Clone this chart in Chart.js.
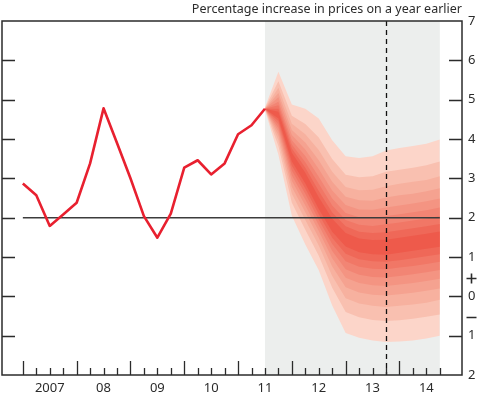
<!DOCTYPE html>
<html>
<head>
<meta charset="utf-8">
<script src="https://cdn.jsdelivr.net/npm/chart.js@4"></script>
<style>
  html, body { margin: 0; padding: 0; background: #fff; }
</style>
</head>
<body>
<canvas id="fanChart" width="479" height="396"></canvas>
<script>
// CPI, per cent on a year earlier, quarterly from 2007 Q1
const historyCpi = [2.87, 2.57, 1.79, 2.08, 2.38, 3.38, 4.78, 3.9, 3.0, 2.04, 1.49, 2.1, 3.27, 3.46, 3.1, 3.38, 4.12, 4.35, 4.77];

// quarter indices (0 = 2007 Q1)
const firstForecast = 18;   // 2011 Q3
const lastQuarter = 31;     // 2014 Q4
const horizonQuarter = 27;  // 2013 Q4
const inflationTarget = 2;

const yearLabels = ['2007', '08', '09', '10', '11', '12', '13', '14'];
const rightTicks = [7, 6, 5, 4, 3, 2, 1, 0, -1, -2];
const innerTicks = [6, 5, 4, 3, 2, 1, 0, -1];

// fan bands, 2011 Q3 to 2014 Q4
const hi90 = [4.80, 5.71, 4.88, 4.77, 4.52, 3.97, 3.56, 3.52, 3.56, 3.71, 3.77, 3.82, 3.88, 3.99];
const hi80 = [4.79, 5.47, 4.59, 4.38, 4.04, 3.49, 3.09, 3.03, 3.05, 3.17, 3.22, 3.27, 3.33, 3.43];
const hi70 = [4.77, 5.30, 4.39, 4.12, 3.72, 3.17, 2.78, 2.70, 2.71, 2.80, 2.86, 2.91, 2.96, 3.05];
const hi60 = [4.77, 5.17, 4.23, 3.91, 3.46, 2.91, 2.53, 2.44, 2.43, 2.51, 2.57, 2.61, 2.67, 2.75];
const hi50 = [4.77, 5.06, 4.10, 3.73, 3.24, 2.69, 2.32, 2.21, 2.20, 2.26, 2.31, 2.36, 2.42, 2.49];
const hi40 = [4.77, 4.95, 3.97, 3.57, 3.04, 2.49, 2.12, 2.01, 1.99, 2.04, 2.09, 2.14, 2.19, 2.26];
const hi30 = [4.77, 4.86, 3.86, 3.41, 2.86, 2.31, 1.94, 1.82, 1.79, 1.83, 1.88, 1.93, 1.98, 2.04];
const hi20 = [4.77, 4.77, 3.76, 3.27, 2.68, 2.13, 1.78, 1.64, 1.61, 1.63, 1.68, 1.73, 1.78, 1.84];
const hi10 = [4.77, 4.69, 3.65, 3.14, 2.52, 1.97, 1.61, 1.47, 1.43, 1.44, 1.49, 1.54, 1.59, 1.65];
const lo10 = [4.77, 4.52, 3.43, 2.87, 2.22, 1.64, 1.27, 1.12, 1.07, 1.06, 1.11, 1.16, 1.21, 1.26];
const lo20 = [4.77, 4.45, 3.32, 2.74, 2.09, 1.49, 1.08, 0.94, 0.89, 0.88, 0.92, 0.97, 1.02, 1.07];
const lo30 = [4.77, 4.37, 3.20, 2.61, 1.95, 1.33, 0.89, 0.75, 0.70, 0.69, 0.73, 0.77, 0.82, 0.88];
const lo40 = [4.77, 4.28, 3.07, 2.46, 1.81, 1.15, 0.69, 0.55, 0.49, 0.48, 0.52, 0.56, 0.61, 0.67];
const lo50 = [4.77, 4.19, 2.94, 2.31, 1.66, 0.97, 0.47, 0.34, 0.28, 0.26, 0.30, 0.34, 0.39, 0.45];
const lo60 = [4.77, 4.09, 2.78, 2.14, 1.49, 0.76, 0.23, 0.10, 0.04, 0.02, 0.05, 0.09, 0.14, 0.20];
const lo70 = [4.77, 3.97, 2.61, 1.94, 1.29, 0.52, -0.05, -0.18, -0.24, -0.27, -0.24, -0.21, -0.16, -0.09];
const lo80 = [4.75, 3.82, 2.38, 1.69, 1.03, 0.22, -0.40, -0.53, -0.60, -0.63, -0.61, -0.57, -0.52, -0.46];
const lo90 = [4.74, 3.60, 2.05, 1.32, 0.66, -0.23, -0.93, -1.05, -1.12, -1.16, -1.15, -1.12, -1.07, -1.00];

// outer (lightest) to inner (darkest)
const fanBands = [
    [lo90, hi90], [lo80, hi80], [lo70, hi70], [lo60, hi60], [lo50, hi50],
    [lo40, hi40], [lo30, hi30], [lo20, hi20], [lo10, hi10]
];
const fanColours = ['#fcd5c9', '#f9c0b0', '#f7b19f', '#f5a290', '#f49482', '#f28574', '#f17766', '#ef6858', '#ee5a4b'];

const FONT = '"Noto Sans", "Open Sans", sans-serif';
const INK = '#2b2b2b';

function toPoints(values, start) {
    return values.map(function(v, i) { return { x: start + i, y: v }; });
}

const datasets = [
    {
        data: toPoints(historyCpi, 0),
        borderColor: '#e8202f',
        borderWidth: 2.6,
        fill: false,
        order: 0
    },
    {
        data: [{ x: 0, y: inflationTarget }, { x: lastQuarter, y: inflationTarget }],
        borderColor: '#3c3c3c',
        borderWidth: 1.5,
        fill: false,
        order: 1
    }
];

fanBands.forEach(function(band, k) {
    const order = 20 - k;
    datasets.push({
        data: toPoints(band[0], firstForecast),
        borderWidth: 0,
        fill: false,
        order: order
    });
    datasets.push({
        data: toPoints(band[1], firstForecast),
        borderWidth: 0,
        backgroundColor: fanColours[k],
        fill: '-1',
        order: order
    });
});

// shading, frame, ticks and labels
const framePlugin = {
    id: 'boeFrame',
    beforeDatasetsDraw: function(chart) {
        const ctx = chart.ctx;
        const a = chart.chartArea;
        const x = chart.scales.x;
        const x0 = x.getPixelForValue(firstForecast);
        const x1 = x.getPixelForValue(lastQuarter);
        ctx.save();
        ctx.fillStyle = '#eceeed';
        ctx.fillRect(x0, a.top, x1 - x0, a.bottom - a.top);
        ctx.restore();
    },
    afterDatasetsDraw: function(chart) {
        const ctx = chart.ctx;
        const a = chart.chartArea;
        const x = chart.scales.x;
        const y = chart.scales.y;
        ctx.save();

        // projection horizon
        const xh = Math.round(x.getPixelForValue(horizonQuarter)) + 0.5;
        ctx.strokeStyle = '#111';
        ctx.lineWidth = 1.3;
        ctx.setLineDash([5, 4]);
        ctx.beginPath();
        ctx.moveTo(xh, a.top);
        ctx.lineTo(xh, a.bottom);
        ctx.stroke();
        ctx.setLineDash([]);

        // frame
        ctx.strokeStyle = INK;
        ctx.lineWidth = 1.5;
        ctx.strokeRect(a.left, a.top, a.right - a.left, a.bottom - a.top);

        // y ticks, both sides, pointing in
        ctx.lineWidth = 1.3;
        innerTicks.forEach(function(v) {
            const py = Math.round(y.getPixelForValue(v)) + 0.5;
            ctx.beginPath();
            ctx.moveTo(a.left, py);
            ctx.lineTo(a.left + 13, py);
            ctx.moveTo(a.right - 13, py);
            ctx.lineTo(a.right, py);
            ctx.stroke();
        });

        // quarter ticks along the bottom
        for (let q = 0; q <= lastQuarter; q++) {
            const px = Math.round(x.getPixelForValue(q)) + 0.5;
            const len = q % 4 === 0 ? 14 : 7;
            ctx.beginPath();
            ctx.moveTo(px, a.bottom);
            ctx.lineTo(px, a.bottom - len);
            ctx.stroke();
        }

        ctx.fillStyle = INK;
        ctx.font = '13px ' + FONT;

        // right hand labels
        ctx.textAlign = 'left';
        ctx.textBaseline = 'middle';
        rightTicks.forEach(function(v) {
            ctx.fillText(String(Math.abs(v)), a.right + 6, y.getPixelForValue(v));
        });

        // sign markers either side of zero
        const sx = a.right + 9.5;
        const yp = Math.round(y.getPixelForValue(0.47)) + 0.5;
        const ym = Math.round(y.getPixelForValue(-0.53)) + 0.5;
        ctx.lineWidth = 1.6;
        ctx.beginPath();
        ctx.moveTo(sx - 5, yp);
        ctx.lineTo(sx + 5, yp);
        ctx.moveTo(sx, yp - 5);
        ctx.lineTo(sx, yp + 5);
        ctx.moveTo(sx - 5, ym);
        ctx.lineTo(sx + 5, ym);
        ctx.stroke();

        // year labels, centred on each year
        ctx.textAlign = 'center';
        yearLabels.forEach(function(label, i) {
            ctx.fillText(label, x.getPixelForValue(i * 4 + 2), a.bottom + 13);
        });

        // units
        ctx.font = '12.5px ' + FONT;
        ctx.textAlign = 'right';
        ctx.fillText('Percentage increase in prices on a year earlier', a.right, 9);

        ctx.restore();
    }
};

new Chart(document.getElementById('fanChart'), {
    type: 'line',
    data: { datasets: datasets },
    options: {
        responsive: false,
        animation: false,
        layout: { padding: { left: 2, right: 17, top: 21, bottom: 21 } },
        elements: {
            point: { radius: 0 },
            line: { tension: 0, borderJoinStyle: 'round' }
        },
        plugins: {
            legend: { display: false },
            tooltip: { enabled: false }
        },
        scales: {
            x: { type: 'linear', min: -1.55, max: 32.65, display: false },
            y: { type: 'linear', min: -2, max: 7, display: false }
        }
    },
    plugins: [framePlugin]
});
</script>
</body>
</html>
